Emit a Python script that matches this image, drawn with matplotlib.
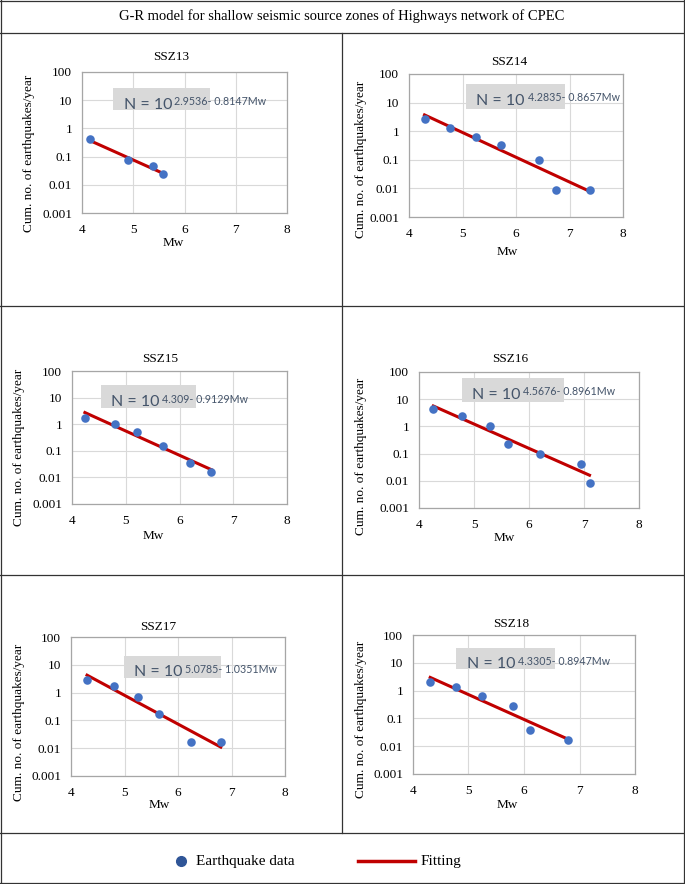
import matplotlib
matplotlib.use("Agg")
import matplotlib.pyplot as plt
import numpy as np
from matplotlib.patches import Rectangle
from matplotlib.ticker import FuncFormatter, NullLocator

plt.rcParams["font.family"] = ["Liberation Serif", "DejaVu Serif"]

# Data
zones = ["SSZ13", "SSZ14", "SSZ15", "SSZ16", "SSZ17", "SSZ18"]

mw_13 = [4.16, 4.89, 5.39, 5.59]
n_13 = [0.41, 0.075, 0.047, 0.024]
mw_14 = [4.29, 4.76, 5.25, 5.72, 6.43, 6.74, 7.39]
n_14 = [2.6, 1.26, 0.65, 0.34, 0.10, 0.0088, 0.0088]
mw_15 = [4.24, 4.80, 5.21, 5.69, 6.19, 6.59]
n_15 = [1.76, 1.02, 0.49, 0.147, 0.035, 0.0165]
mw_16 = [4.26, 4.78, 5.29, 5.61, 6.20, 6.95, 7.10]
n_16 = [4.3, 2.46, 1.0, 0.235, 0.10, 0.042, 0.0086]
mw_17 = [4.30, 4.80, 5.25, 5.64, 6.25, 6.80]
n_17 = [2.9, 1.8, 0.69, 0.177, 0.0173, 0.0173]
mw_18 = [4.31, 4.77, 5.25, 5.80, 6.10, 6.80]
n_18 = [1.98, 1.38, 0.64, 0.27, 0.037, 0.0172]

intercepts = ["2.9536", "4.2835", "4.309", "4.5676", "5.0785", "4.3305"]
slopes = ["0.8147", "0.8657", "0.9129", "0.8961", "1.0351", "0.8947"]

mw_all = [mw_13, mw_14, mw_15, mw_16, mw_17, mw_18]
n_all = [n_13, n_14, n_15, n_16, n_17, n_18]

# Layout in pixels: plot box, title, y-label, x-label, equation box/text (axes fraction)
W, H = 685, 884
boxes = [(82, 72, 287, 213), (409, 74, 623, 217), (72, 371, 287, 504),
         (419, 372, 639, 508), (71, 637, 285, 776), (413, 635, 635, 774)]
title_pos = [(171, 57), (509, 62), (160, 359), (510, 359), (158, 627), (511, 624)]
ylab_pos = [(29, 153), (361, 159), (19, 447), (361, 456), (19, 722), (361, 719)]
xlab_pos = [(173, 243), (507, 252), (153, 536), (504, 538), (159, 805), (507, 805)]
eq_box = [(0.15, 0.729, 0.476, 0.157), (0.267, 0.758, 0.461, 0.172),
          (0.134, 0.724, 0.443, 0.173), (0.197, 0.779, 0.462, 0.177),
          (0.246, 0.707, 0.455, 0.158), (0.195, 0.758, 0.443, 0.151)]
eq_n = [(0.203, 0.767), (0.315, 0.809), (0.183, 0.767),
        (0.243, 0.828), (0.295, 0.745), (0.245, 0.790)]
eq_exp = [(0.45, 0.789), (0.555, 0.837), (0.42, 0.789),
          (0.473, 0.860), (0.534, 0.764), (0.473, 0.811)]

fig = plt.figure(figsize=(W / 100, H / 100), dpi=100)

# Background frame (table lines, title, legend) in pixel coordinates
bg = fig.add_axes([0, 0, 1, 1])
bg.set_xlim(0, W)
bg.set_ylim(H, 0)
bg.axis("off")
line_kw = dict(color="#333333", lw=0.9)
for y in [0.6, 33, 306, 575, 833, 883.4]:
    bg.plot([0, W], [y, y], **line_kw)
bg.plot([0.6, 0.6], [0, H], **line_kw)
bg.plot([684.4, 684.4], [0, H], **line_kw)
bg.plot([342, 342], [33, 833], **line_kw)
bg.text(342, 16, "G-R model for shallow seismic source zones of Highways network of CPEC",
        ha="center", va="center", fontsize=10.5)

# Legend row
bg.plot([181], [861], "o", color="#2F5597", ms=7)
bg.text(196, 861, "Earthquake data", ha="left", va="center", fontsize=11)
bg.plot([358, 415], [861, 861], color="#C00000", lw=2.5)
bg.text(421, 861, "Fitting", ha="left", va="center", fontsize=11)


def px_rect(x0, y0, x1, y1):
    return [x0 / W, 1 - y1 / H, (x1 - x0) / W, (y1 - y0) / H]


for i, zone in enumerate(zones):
    x0, y0, x1, y1 = boxes[i]
    ax = fig.add_axes(px_rect(x0, y0, x1, y1))
    ax.set_yscale("log")
    ax.set_xlim(4, 8)
    ax.set_ylim(0.001, 100)
    ax.set_xticks([4, 5, 6, 7, 8])
    ax.set_yticks([0.001, 0.01, 0.1, 1, 10, 100])
    ax.yaxis.set_major_formatter(FuncFormatter(lambda v, p: f"{v:g}"))
    ax.yaxis.set_minor_locator(NullLocator())
    ax.set_axisbelow(True)
    ax.grid(True, color="#D9D9D9", lw=0.8)
    for s in ax.spines.values():
        s.set_color("#A6A6A6")
        s.set_linewidth(0.9)
    ax.tick_params(length=0, labelsize=9.5)
    ax.tick_params(axis="x", pad=8)
    ax.tick_params(axis="y", pad=7)

    # Fitting line from the G-R equation, then the data points
    mw = np.array(mw_all[i])
    a, b = float(intercepts[i]), float(slopes[i])
    xf = np.array([mw.min(), mw.max()])
    ax.plot(xf, 10 ** (a - b * xf), color="#C00000", lw=2.2, zorder=3)
    ax.scatter(mw, n_all[i], s=38, color="#4472C4", zorder=4, linewidths=0)

    # Title and axis labels
    tx, ty = title_pos[i]
    ax.set_title(zone, x=(tx - x0) / (x1 - x0), y=1 + (y0 - ty) / (y1 - y0),
                 pad=0, va="center", fontsize=9.5)
    ax.set_ylabel("Cum. no. of earthquakes/year", fontsize=9.5, va="center")
    ax.yaxis.set_label_coords(*ylab_pos[i], transform=bg.transData)
    ax.set_xlabel("Mw", fontsize=9.5, va="center")
    ax.xaxis.set_label_coords(*xlab_pos[i], transform=bg.transData)

    # Equation annotation
    bx, by, bw, bh = eq_box[i]
    ax.add_patch(Rectangle((bx, by), bw, bh, transform=ax.transAxes,
                           facecolor="#D9D9D9", edgecolor="none", zorder=2))
    ax.text(*eq_n[i], "N = 10", transform=ax.transAxes, ha="left", va="center",
            fontsize=11.5, color="#44546A", family="Lato", zorder=5)
    ax.text(*eq_exp[i], f"{intercepts[i]}- {slopes[i]}Mw", transform=ax.transAxes,
            ha="left", va="center", fontsize=7.7, color="#44546A", family="Lato",
            zorder=5)

fig.savefig("out.png", dpi=100)
